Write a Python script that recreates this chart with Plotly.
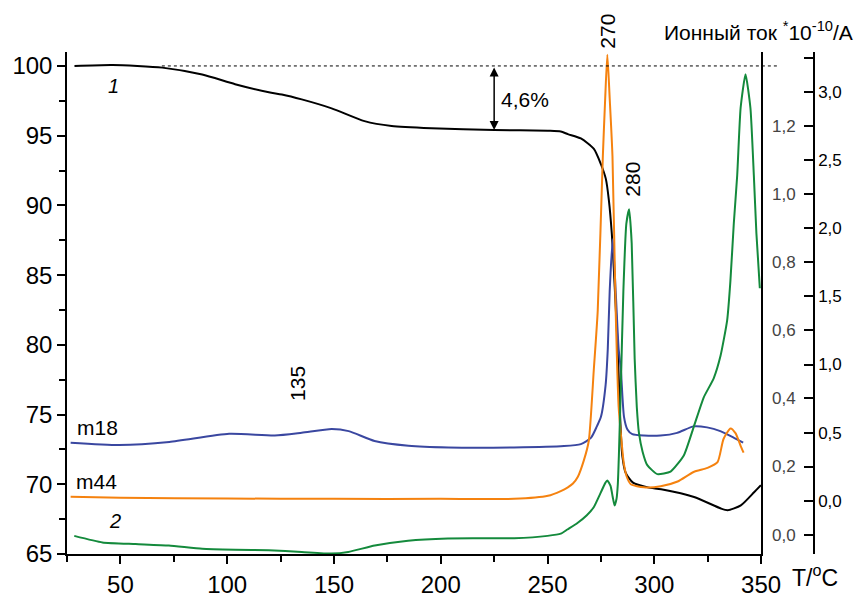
import plotly.graph_objects as go

# --- TG curve (curve 1): mass, %
tg_t = [28.5, 46.3, 69.6, 88.3, 103.7, 119.5, 125.6, 134.9, 148.9, 164.3, 177, 195.6, 225,
        250.2, 256.2, 259.5, 265.6, 271.7, 275.0, 277.3, 278.7, 280.1, 281.0, 281.9,
        282.9, 283.8, 285.0, 286.6, 290.0, 297.0, 303.2, 318.6, 331.2, 334.3, 340.5,
        346.7, 349.9]
tg_mass = [100.0, 100.07, 99.88, 99.38, 98.69, 98.11, 97.95, 97.6, 96.96, 96.04, 95.69,
           95.53, 95.41, 95.35, 95.3, 95.11, 94.8, 94.05, 92.95, 91.9, 90.4, 87.97, 85.55,
           82.78, 79.67, 75.52, 72.06, 70.82, 70.12, 69.78, 69.64, 69.09, 68.26, 68.14,
           68.49, 69.43, 69.94]

# --- ion current m18 (inner right scale)
m18_t = [26.7, 49.5, 72.9, 100.9, 122.3, 134.9, 148.9, 156.9, 169.0, 184.9, 203.5, 234.3,
         257.7, 265.6, 270.3, 273.1, 275.0, 277.2, 278.2, 279.1, 280.5, 281.9, 283.3,
         284.3, 285.8, 287.4, 289.7, 295.1, 302.9, 310.7, 318.4, 324.7, 330.9, 337.1, 341.6]
m18_i = [0.270, 0.263, 0.272, 0.296, 0.291, 0.299, 0.310, 0.304, 0.275, 0.261, 0.256, 0.256,
         0.260, 0.266, 0.284, 0.318, 0.346, 0.440, 0.545, 0.715, 0.868, 0.715, 0.545,
         0.488, 0.346, 0.309, 0.295, 0.291, 0.291, 0.299, 0.318, 0.315, 0.304, 0.285, 0.270]

# --- ion current m44 (inner right scale)
m44_t = [26.7, 50, 100, 150, 200, 234.3, 250.2, 256.2, 259.5, 261.9, 264.2, 267.0, 269.3,
         271.7, 273.5, 275.9, 277.0, 278.0, 279.1, 280.4, 281.9, 283.3, 284.3, 285.7,
         287.1, 289.0, 295.1, 303.0, 310.9, 318.4, 324.9, 329.6, 332.4, 335.7, 338.0,
         340.4, 341.8]
m44_i = [0.111, 0.108, 0.106, 0.105, 0.105, 0.105, 0.114, 0.128, 0.139, 0.150, 0.170, 0.218,
         0.275, 0.488, 0.658, 1.112, 1.282, 1.41, 1.282, 1.112, 0.658, 0.374, 0.298, 0.210,
         0.170, 0.148, 0.139, 0.142, 0.156, 0.184, 0.196, 0.213, 0.281, 0.312, 0.298,
         0.261, 0.241]

# --- ion current, curve 2 (outer right scale)
c2_t = [28.4, 41.6, 57.1, 72.7, 88.3, 103.8, 119.4, 134.9, 148.9, 156.7, 169.1, 184.7,
        203.3, 234.4, 250.0, 256.2, 259.3, 264.0, 268.4, 271.7, 274.9, 277.0, 278.0, 279.5,
        280.5, 281.4, 282.3, 282.9, 283.4, 284.3, 285.5, 286.9, 288.2, 289.4, 290.8,
        291.8, 292.8, 294.5, 296.7, 301.4, 307.6, 313.8, 318.5, 323.1, 327.8, 331.0,
        334.1, 335.6, 337.2, 338.8, 340.4, 342.7, 345.0, 346.6, 347.8, 349.4]
c2_i = [-0.257, -0.305, -0.317, -0.328, -0.352, -0.359, -0.363, -0.375, -0.387, -0.375,
        -0.328, -0.292, -0.276, -0.274, -0.257, -0.241, -0.210, -0.163, -0.106, -0.045,
        0.06, 0.13, 0.15, 0.11, 0.03, -0.035, 0.014, 0.12, 0.33, 0.829, 1.537, 2.033,
        2.139, 1.891, 1.041, 0.687, 0.498, 0.361, 0.262, 0.196, 0.215, 0.333, 0.545,
        0.758, 0.899, 1.064, 1.324, 1.608, 2.033, 2.387, 2.882, 3.130, 2.882, 2.387,
        1.962, 1.560]

x_ticks = [50, 100, 150, 200, 250, 300, 350]
y_ticks = [65, 70, 75, 80, 85, 90, 95, 100]
inner_ticks = [0.0, 0.2, 0.4, 0.6, 0.8, 1.0, 1.2, 1.4]
inner_text = ["0,0", "0,2", "0,4", "0,6", "0,8", "1,0", "1,2", ""]
outer_ticks = [0.0, 0.5, 1.0, 1.5, 2.0, 2.5, 3.0]
outer_text = ["0,0", "0,5", "1,0", "1,5", "2,0", "2,5", "3,0"]

FONT = "Arial, Liberation Sans, sans-serif"
BLACK = "#000000"
ORANGE = "#F5820F"
BLUE = "#3A47A0"
GREEN = "#148A3C"

fig = go.Figure()
line_kw = dict(shape="spline", smoothing=0.6)

fig.add_trace(go.Scatter(x=m18_t, y=m18_i, yaxis="y2", mode="lines",
                         line=dict(color=BLUE, width=2, **line_kw)))
fig.add_trace(go.Scatter(x=c2_t, y=c2_i, yaxis="y3", mode="lines",
                         line=dict(color=GREEN, width=2, shape="spline", smoothing=0.5)))
fig.add_trace(go.Scatter(x=m44_t, y=m44_i, yaxis="y2", mode="lines",
                         line=dict(color=ORANGE, width=2, **line_kw)))
fig.add_trace(go.Scatter(x=tg_t, y=tg_mass, yaxis="y", mode="lines",
                         line=dict(color=BLACK, width=2, **line_kw)))

# 100 % reference line
fig.add_shape(type="line", xref="paper", yref="y", x0=0.127, x1=0.952, y0=100, y1=100,
              line=dict(color=BLACK, width=1, dash="dot"))

annotations = [
    # mass loss arrow
    dict(x=225, y=95.4, ax=225, ay=100, xref="x", yref="y", axref="x", ayref="y",
         text="", showarrow=True, arrowhead=2, arrowside="end+start", arrowsize=1.2,
         arrowwidth=1.5, arrowcolor=BLACK),
    dict(x=227.3, y=97.6, xref="x", yref="y", text="4,6%", showarrow=False,
         xanchor="left", font=dict(size=21)),
    dict(x=46.7, y=98.55, xref="x", yref="y", text="<i>1</i>", showarrow=False,
         font=dict(size=20)),
    dict(x=47.7, y=67.4, xref="x", yref="y", text="<i>2</i>", showarrow=False,
         font=dict(size=20)),
    dict(x=39.3, y=74.07, xref="x", yref="y", text="m18", showarrow=False,
         font=dict(size=21)),
    dict(x=39.0, y=70.19, xref="x", yref="y", text="m44", showarrow=False,
         font=dict(size=21)),
    dict(x=132.6, y=77.25, xref="x", yref="y", text="135", showarrow=False,
         textangle=-90, font=dict(size=21)),
    dict(x=289.9, y=91.9, xref="x", yref="y", text="280", showarrow=False,
         textangle=-90, font=dict(size=21)),
    dict(x=278.2, y=1.042, xref="x", yref="paper", text="270", showarrow=False,
         textangle=-90, yanchor="middle", font=dict(size=21)),
    dict(x=1.0547, y=1.042, xref="paper", yref="paper",
         text="Ионный ток <sup>*</sup>10<sup>-10</sup>/A", showarrow=False,
         xanchor="right", yanchor="middle", font=dict(size=21)),
    dict(x=0.968, y=-0.044, xref="paper", yref="paper", text="T/<sup>o</sup>C",
         showarrow=False, xanchor="left", yanchor="middle", font=dict(size=23)),
]

fig.update_layout(
    width=857, height=610,
    margin=dict(l=65, r=43, t=52, b=38, pad=0),
    paper_bgcolor="white", plot_bgcolor="white",
    font=dict(family=FONT, color=BLACK),
    showlegend=False,
    annotations=annotations,
    xaxis=dict(domain=[0, 0.9292], range=[25, 350], tickvals=x_ticks,
               ticktext=[str(v) for v in x_ticks],
               showline=True, linecolor=BLACK, linewidth=1.5, showgrid=False,
               zeroline=False, ticks="outside", ticklen=8, tickwidth=1.5,
               tickcolor=BLACK, tickfont=dict(size=24),
               minor=dict(ticks="outside", ticklen=6, tickwidth=1.5, dtick=25,
                          tick0=25, tickcolor=BLACK, showgrid=False)),
    yaxis=dict(range=[65, 101], tickvals=y_ticks, ticktext=[str(v) for v in y_ticks],
               showline=True, mirror=True, linecolor=BLACK, linewidth=1.5,
               showgrid=False, zeroline=False, ticks="outside", ticklen=8,
               tickwidth=1.5, tickcolor=BLACK, tickfont=dict(size=24),
               minor=dict(ticks="outside", ticklen=6, tickwidth=1.5, dtick=2.5,
                          tick0=65, tickcolor=BLACK, showgrid=False)),
    yaxis2=dict(overlaying="y", anchor="free", position=1.0, side="right",
                range=[-0.057, 1.418], tickvals=inner_ticks, ticktext=inner_text,
                showline=True, linecolor=BLACK, linewidth=1.5, showgrid=False,
                zeroline=False, ticks="inside", ticklen=9, tickwidth=1.5,
                tickcolor=BLACK, ticklabelposition="inside", ticklabelstandoff=9,
                tickfont=dict(size=17)),
    yaxis3=dict(overlaying="y", anchor="free", position=1.0, side="right",
                range=[-0.39, 3.293], tickvals=outer_ticks, ticktext=outer_text,
                showline=True, linecolor=BLACK, linewidth=1.5, showgrid=False,
                zeroline=False, ticks="inside", ticklen=9, tickwidth=1.5,
                tickcolor=BLACK, ticklabelposition="outside",
                tickfont=dict(size=17)),
)

fig.write_html("out.html")
